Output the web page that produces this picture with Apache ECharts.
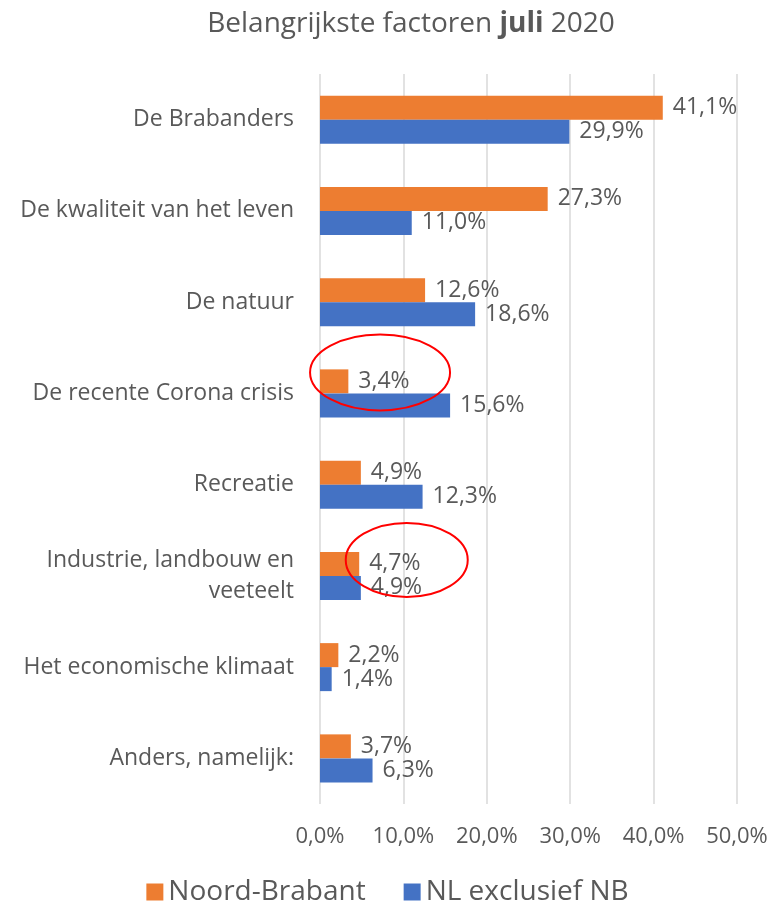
<!DOCTYPE html>
<html lang="nl">
<head>
    <meta charset="UTF-8" />
    <title>Belangrijkste factoren juli 2020</title>
    <script src="https://cdn.jsdelivr.net/npm/echarts@6/dist/echarts.min.js"></script>
    <style>
        body { margin: 0; background: #fff; }
        #chart { width: 775px; height: 911px; }
    </style>
</head>
<body>
<div id="chart"></div>
<script>
    // categorieën (van boven naar beneden)
    const categories = [
        'De Brabanders',
        'De kwaliteit van het leven',
        'De natuur',
        'De recente Corona crisis',
        'Recreatie',
        'Industrie, landbouw en\nveeteelt',
        'Het economische klimaat',
        'Anders, namelijk:'
    ];
    const noordBrabant = [41.1, 27.3, 12.6, 3.4, 4.9, 4.7, 2.2, 3.7];
    const nlExclNB = [29.9, 11.0, 18.6, 15.6, 12.3, 4.9, 1.4, 6.3];

    // rode ellipsen: [x-waarde, categorie-index]
    const highlights = [[7.2, 3], [10.4, 5]];

    const textColor = '#595959';
    const font = '"Open Sans", sans-serif';
    const pct = v => v.toFixed(1).replace('.', ',') + '%';

    const chart = echarts.init(document.getElementById('chart'));

    const barLabel = {
        show: true,
        position: 'right',
        distance: 10,
        color: textColor,
        fontFamily: font,
        fontSize: 23,
        formatter: p => pct(p.value)
    };

    chart.setOption({
        animation: false,
        title: {
            text: '{n|Belangrijkste factoren }{b|juli}{n| 2020}',
            left: 406,
            textAlign: 'center',
            top: 5,
            textStyle: {
                fontWeight: 'normal',
                rich: {
                    n: { fontSize: 28, color: textColor, fontFamily: font, fontWeight: 'normal' },
                    b: { fontSize: 28, color: textColor, fontFamily: font, fontWeight: 'bold' }
                }
            }
        },
        legend: {
            bottom: 0,
            left: 'center',
            itemWidth: 17,
            itemHeight: 17,
            itemGap: 38,
            icon: 'rect',
            textStyle: { color: textColor, fontFamily: font, fontSize: 28 },
            data: ['Noord-Brabant', 'NL exclusief NB']
        },
        grid: { left: 320, right: 38, top: 74, bottom: 107, containLabel: false },
        xAxis: {
            type: 'value',
            min: 0,
            max: 50,
            interval: 10,
            axisLine: { show: false },
            axisTick: { show: false },
            splitLine: { lineStyle: { color: '#d9d9d9', width: 1.5 } },
            axisLabel: {
                margin: 22,
                color: textColor,
                fontFamily: font,
                fontSize: 22,
                formatter: v => pct(v)
            }
        },
        yAxis: {
            type: 'category',
            inverse: true,
            data: categories,
            axisLine: { show: false },
            axisTick: { show: false },
            axisLabel: {
                margin: 26,
                color: textColor,
                fontFamily: font,
                fontSize: 23,
                lineHeight: 31,
                align: 'right'
            }
        },
        series: [
            {
                name: 'Noord-Brabant',
                type: 'bar',
                data: noordBrabant,
                barWidth: 24,
                barGap: '0%',
                itemStyle: { color: '#ED7D31' },
                label: barLabel
            },
            {
                name: 'NL exclusief NB',
                type: 'bar',
                data: nlExclNB,
                barWidth: 24,
                itemStyle: { color: '#4472C4' },
                label: barLabel
            }
        ]
    });

    // ellipsen rond 3,4% en 4,7%
    const ell = [{ dy: -21, rx: 70, ry: 38 }, { dy: -16, rx: 61, ry: 37 }];
    chart.setOption({
        graphic: highlights.map((h, i) => {
            const p = chart.convertToPixel({ gridIndex: 0 }, [h[0], categories[h[1]]]);
            return {
                type: 'ellipse',
                shape: { cx: p[0], cy: p[1] + ell[i].dy, rx: ell[i].rx, ry: ell[i].ry },
                style: { fill: 'none', stroke: '#ff0000', lineWidth: 2 },
                z: 100
            };
        })
    });
</script>
</body>
</html>
